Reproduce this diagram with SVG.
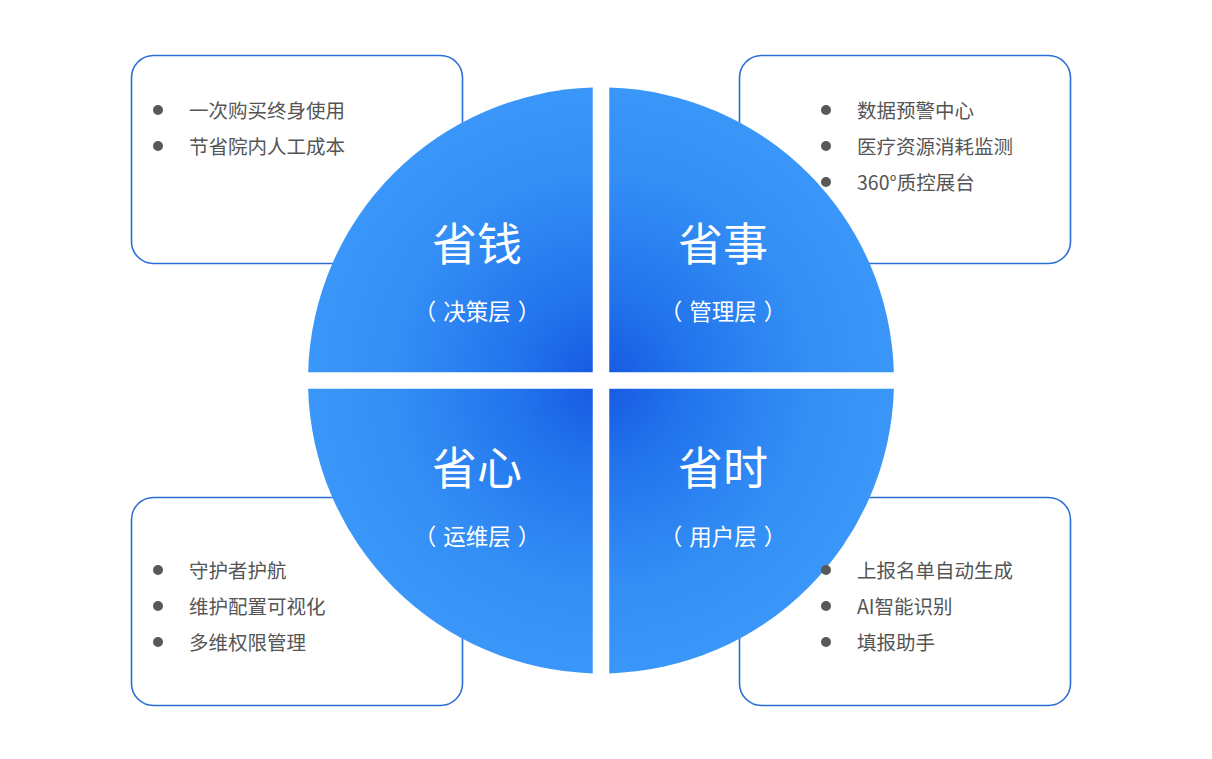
<svg xmlns="http://www.w3.org/2000/svg" width="1212" height="759" viewBox="0 0 1212 759">
  <defs>
    <radialGradient id="g" gradientUnits="userSpaceOnUse" cx="601" cy="380.5" r="293">
      <stop offset="0" stop-color="#1658e2"/>
      <stop offset="0.3" stop-color="#2274ec"/>
      <stop offset="0.7" stop-color="#338ef5"/>
      <stop offset="1" stop-color="#3a97f9"/>
    </radialGradient>
    <style>
      .box { fill: #ffffff; stroke: #2a6fd6; stroke-width: 1.6; }
      .quad { fill: url(#g); }
      .item { font-family: "Microsoft YaHei", "Noto Sans CJK SC", "Noto Sans", sans-serif; font-size: 19.5px; fill: #555555; }
      .dot { fill: #595959; }
      .title { font-family: "Microsoft YaHei", "Noto Sans CJK SC", sans-serif; font-size: 45px; fill: #ffffff; text-anchor: middle; }
      .sub { font-family: "Microsoft YaHei", "Noto Sans CJK SC", sans-serif; font-size: 22.5px; fill: #ffffff; text-anchor: middle; }
    </style>
  </defs>
  <rect width="1212" height="759" fill="#ffffff"/>

  <g id="box-frames">
    <rect id="box-tl" class="box" x="131.5" y="55.5" width="331" height="208" rx="22"/>
    <rect id="box-tr" class="box" x="739.5" y="55.5" width="331" height="208" rx="22"/>
    <rect id="box-bl" class="box" x="131.5" y="497.5" width="331" height="208" rx="22"/>
    <rect id="box-br" class="box" x="739.5" y="497.5" width="331" height="208" rx="22"/>
  </g>

  <g id="quad-tl">
    <path class="quad" d="M592.75,372.25 L592.75,87.62 A293,293 0 0 0 308.12,372.25 Z"/>
    <text class="title" x="477" y="261">省钱</text>
    <text class="sub" x="477" y="319.5">（<tspan dx="7">决策层</tspan><tspan dx="7">）</tspan></text>
  </g>
  <g id="quad-tr">
    <path class="quad" d="M609.25,372.25 L893.88,372.25 A293,293 0 0 0 609.25,87.62 Z"/>
    <text class="title" x="723" y="261">省事</text>
    <text class="sub" x="723" y="319.5">（<tspan dx="7">管理层</tspan><tspan dx="7">）</tspan></text>
  </g>
  <g id="quad-bl">
    <path class="quad" d="M592.75,388.75 L308.12,388.75 A293,293 0 0 0 592.75,673.38 Z"/>
    <text class="title" x="477" y="485">省心</text>
    <text class="sub" x="477" y="544.5">（<tspan dx="7">运维层</tspan><tspan dx="7">）</tspan></text>
  </g>
  <g id="quad-br">
    <path class="quad" d="M609.25,388.75 L609.25,673.38 A293,293 0 0 0 893.88,388.75 Z"/>
    <text class="title" x="723" y="485">省时</text>
    <text class="sub" x="723" y="544.5">（<tspan dx="7">用户层</tspan><tspan dx="7">）</tspan></text>
  </g>

  <g id="list-tl">
    <circle class="dot" cx="158" cy="110" r="5"/>
    <text class="item" x="189" y="117.5">一次购买终身使用</text>
    <circle class="dot" cx="158" cy="146" r="5"/>
    <text class="item" x="189" y="153.5">节省院内人工成本</text>
  </g>
  <g id="list-tr">
    <circle class="dot" cx="826" cy="110" r="5"/>
    <text class="item" x="857" y="117.5">数据预警中心</text>
    <circle class="dot" cx="826" cy="146" r="5"/>
    <text class="item" x="857" y="153.5">医疗资源消耗监测</text>
    <circle class="dot" cx="826" cy="182" r="5"/>
    <text class="item" x="857" y="189.5">360°质控展台</text>
  </g>
  <g id="list-bl">
    <circle class="dot" cx="158" cy="570" r="5"/>
    <text class="item" x="189" y="577.5">守护者护航</text>
    <circle class="dot" cx="158" cy="606" r="5"/>
    <text class="item" x="189" y="613.5">维护配置可视化</text>
    <circle class="dot" cx="158" cy="642" r="5"/>
    <text class="item" x="189" y="649.5">多维权限管理</text>
  </g>
  <g id="list-br">
    <circle class="dot" cx="826" cy="570" r="5"/>
    <text class="item" x="857" y="577.5">上报名单自动生成</text>
    <circle class="dot" cx="826" cy="606" r="5"/>
    <text class="item" x="857" y="613.5">AI智能识别</text>
    <circle class="dot" cx="826" cy="642" r="5"/>
    <text class="item" x="857" y="649.5">填报助手</text>
  </g>
</svg>
